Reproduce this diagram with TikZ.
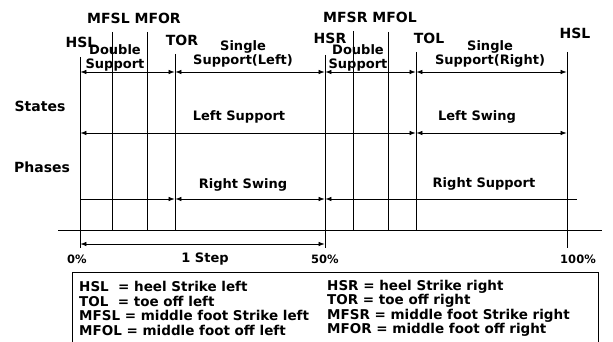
\documentclass[tikz,border=0pt]{standalone}
\usepackage{fontspec}
\setmainfont{DejaVu Sans}
\usetikzlibrary{arrows.meta}

\begin{document}
\begin{tikzpicture}[
      x=1pt, y=-1pt,
      evt/.style={font=\fontsize{14}{14}\selectfont\bfseries, inner sep=0pt},
      lbl/.style={font=\fontsize{13}{14}\selectfont\bfseries, inner sep=0pt, align=center},
      pct/.style={font=\fontsize{11.5}{12}\selectfont\bfseries, inner sep=0pt},
      key/.style={font=\fontsize{13.5}{14.5}\selectfont\bfseries, inner sep=0pt,
                  align=left, anchor=west},
      vline/.style={line width=0.8pt},
      arr/.style={line width=0.7pt, >={Latex[length=6pt,width=4.5pt]},
                  shorten <=0.4pt, shorten >=0.4pt}
    ]
    \useasboundingbox (0,0) rectangle (613,342);
    \foreach \n/\x/\t/\b in {hsla/80/57/248, mfsl/112/32/231, mfor/147/32/231,
                             tor/175/54/230, hsr/325/55/248, mfsr/353/31/231,
                             mfol/388/32/231, tol/416/52/230, hslb/567/52/248}{
      \coordinate (\n) at (\x,\t);
      \coordinate (\n-end) at (\x,\b);
      \draw[vline] (\n) -- (\n-end);
    }
    \coordinate (row1) at (0,72);
    \coordinate (row2) at (0,133);
    \coordinate (row3) at (0,199);
    \coordinate (steprow) at (0,244);
    \coordinate (row3-end) at (577,199);
    \coordinate (base-l) at (58,230);
    \coordinate (base-r) at (602,230);
    \coordinate (key-nw) at (72,272);
    \coordinate (key-se) at (598,348);

    \node[evt] (mfl) at (134,18) {MFSL MFOR};
    \node[evt] (mfr) at (370,17) {MFSR MFOL};
    \node[evt] (l-hsla) at (81,42) {HSL};
    \node[evt] (l-tor) at (182,40) {TOR};
    \node[evt] (l-hsr) at (330,38) {HSR};
    \node[evt] (l-tol) at (429,38) {TOL};
    \node[evt] (l-hslb) at (575,33) {HSL};

    \node[lbl] (dsl) at (115,58) {Double\\Support};
    \node[lbl] (ssl) at (243,54) {Single\\Support(Left)};
    \node[lbl] (dsr) at (358,58) {Double\\Support};
    \node[lbl] (ssr) at (490,54) {Single\\Support(Right)};
    \node[lbl] (lsup) at (239,117) {Left Support};
    \node[lbl] (lswg) at (477,117) {Left Swing};
    \node[lbl] (rswg) at (243,185) {Right Swing};
    \node[lbl] (rsup) at (484,184) {Right Support};
    \node[evt] (states) at (40,106) {States};
    \node[evt] (phases) at (42,167) {Phases};

    \node[pct] (p0) at (77,259) {0\%};
    \node[lbl] (onestep) at (205,259) {1 Step};
    \node[pct] (p50) at (325,259) {50\%};
    \node[pct] (p100) at (578,259) {100\%};

    \draw[arr, <->] (hsla |- row1) -- (tor |- row1);
    \draw[arr, <->] (tor |- row1) -- (hsr |- row1);
    \draw[arr, <->] (hsr |- row1) -- (tol |- row1);
    \draw[arr, <->] (tol |- row1) -- (hslb |- row1);
    \draw[arr, <->] (hsla |- row2) -- (tol |- row2);
    \draw[arr, <->] (tol |- row2) -- (hslb |- row2);
    \draw[arr, ->] (hsla |- row3) -- (tor |- row3);
    \draw[arr, <->] (tor |- row3) -- (hsr |- row3);
    \draw[arr, <-] (hsr |- row3) -- (row3-end);
    \draw[arr, <->] (hsla |- steprow) -- (hsr |- steprow);
    \draw[vline] (base-l) -- (base-r);

    \draw[vline] (key-nw) rectangle (key-se);
    \node[key] (key-l) at (79,308.5) {HSL\ \ = heel Strike left\\TOL\ \ = toe off left\\
      MFSL = middle foot Strike left\\MFOL = middle foot off left};
    \node[key] (key-r) at (327,308.5) {HSR = heel Strike right\\TOR = toe off right\\
      MFSR = middle foot Strike right\\MFOR = middle foot off right};
  \end{tikzpicture}
\end{document}
